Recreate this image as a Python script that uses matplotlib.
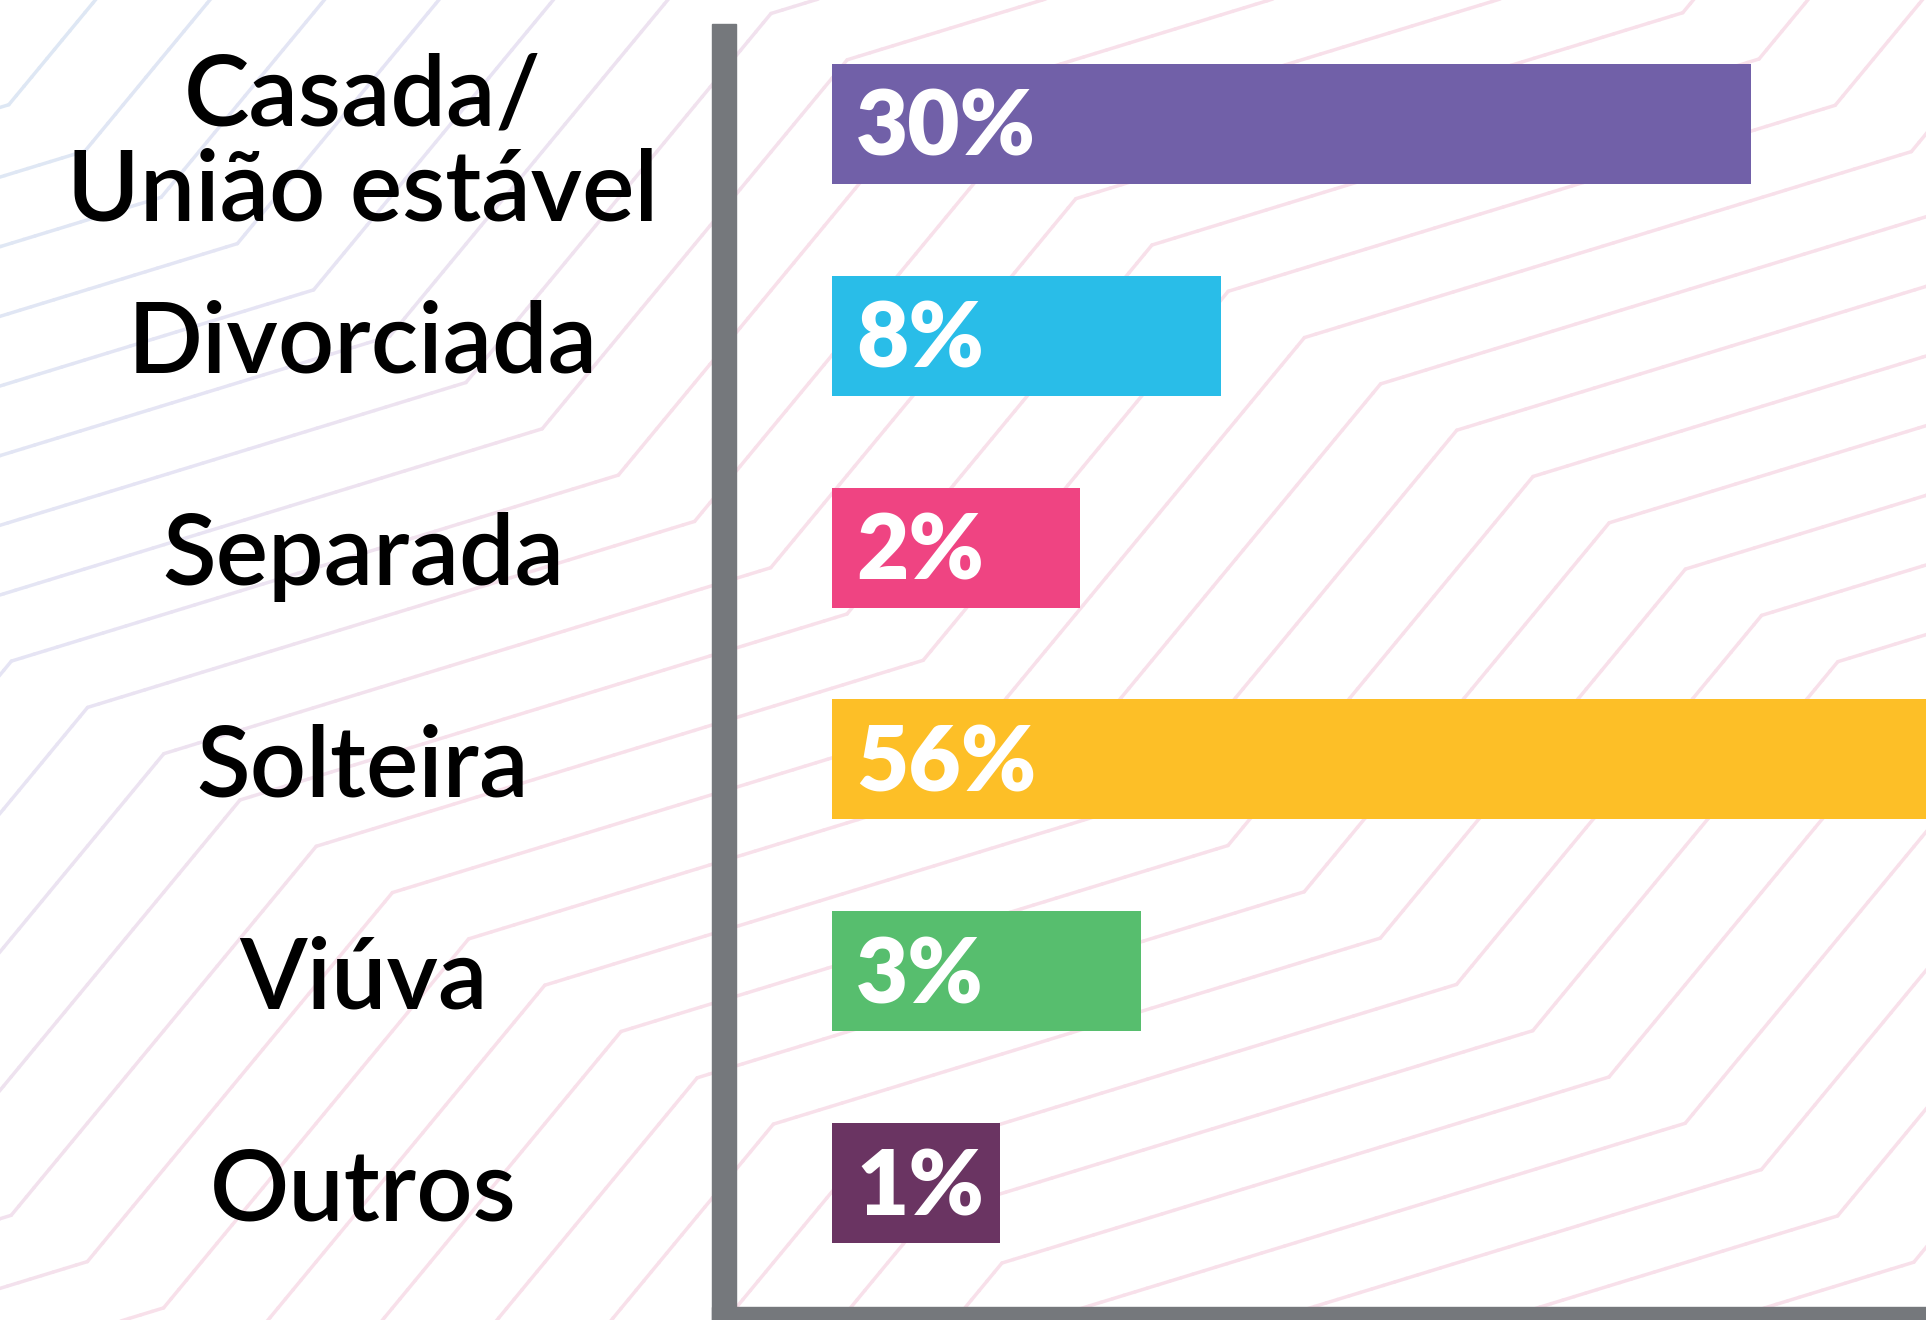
import numpy as np
import matplotlib
matplotlib.use("Agg")
import matplotlib.pyplot as plt
import matplotlib.transforms as mtransforms
from matplotlib.collections import LineCollection
from matplotlib.colors import LinearSegmentedColormap
from matplotlib.patches import Rectangle

# ---------------- data ----------------
categories = ["Casada/\nUnião estável", "Divorciada", "Separada", "Solteira", "Viúva", "Outros"]
percent_values = [30, 8, 2, 56, 3, 1]
# drawn bar lengths as they appear in the picture (the original is not to scale)
bar_lengths = [30.0, 12.7, 8.1, 56.0, 10.1, 5.5]
bar_colors = ["#7160a8", "#29bde8", "#ef4482", "#fdbf27", "#57be6e", "#6a3462"]

# ---------------- figure ----------------
W, H, DPI = 1926, 1320, 100
fig = plt.figure(figsize=(W / DPI, H / DPI), dpi=DPI)
fig.patch.set_facecolor("white")

# decorative zig-zag background
bg = fig.add_axes([0, 0, 1, 1], zorder=0)
bg.set_xlim(0, W)
bg.set_ylim(H, 0)
bg.axis("off")

period = np.array([912.0, -555.0])
shallow = np.array([607.0, -186.0])
shift = np.array([76.2, 46.3])
base_A = np.array([1152.0, 245.0])
corners = []
for m in range(-8, 9):
    A = base_A + m * period
    corners.append(A)
    corners.append(A + shallow)
corners = np.array(corners)

segs = []
for k in range(-70, 71):
    P = corners + k * shift
    for i in range(len(P) - 1):
        p0, p1 = P[i], P[i + 1]
        if max(p0[0], p1[0]) < -20 or min(p0[0], p1[0]) > W + 20:
            continue
        if max(p0[1], p1[1]) < -20 or min(p0[1], p1[1]) > H + 20:
            continue
        n = int(np.ceil(np.hypot(*(p1 - p0)) / 12.0))
        ts = np.linspace(0, 1, n + 1)
        xs = p0[0] + (p1[0] - p0[0]) * ts
        ys = p0[1] + (p1[1] - p0[1]) * ts
        for j in range(n):
            segs.append([(xs[j], ys[j]), (xs[j + 1], ys[j + 1])])
segs = np.array(segs)
mid = segs.mean(axis=1)
keep = (mid[:, 0] > -20) & (mid[:, 0] < W + 20) & (mid[:, 1] > -20) & (mid[:, 1] < H + 20)
segs = segs[keep]
mid = mid[keep]
t = np.clip(mid[:, 0] / 950.0 + mid[:, 1] / 1500.0, 0, 1)
cmap = LinearSegmentedColormap.from_list("bgc", ["#dce8f4", "#e6e4f4", "#f8e0ea"])
lc = LineCollection(segs, colors=cmap(t), linewidths=2.5, capstyle="round")
bg.add_collection(lc)

# main axes
px_per_unit = 30.63
ax_left, ax_right, ax_top, ax_bottom = 736, W, 24, 1307
ax = fig.add_axes([ax_left / W, (H - ax_bottom) / H,
                   (ax_right - ax_left) / W, (ax_bottom - ax_top) / H], zorder=2)
ax.patch.set_alpha(0)
bar_start_px = 832
ax.set_xlim(-(bar_start_px - ax_left) / px_per_unit, (ax_right - bar_start_px) / px_per_unit)
spacing = 211.8
first_center = 124
ax.set_ylim((ax_bottom - first_center) / spacing, (ax_top - first_center) / spacing)
ax.axis("off")

y = np.arange(len(categories))
ax.barh(y, bar_lengths, height=0.567, color=bar_colors, zorder=3)

for i, v in enumerate(percent_values):
    ax.annotate(f"{v}%", xy=(0, i), xytext=(24, -32), textcoords="offset pixels",
                color="white", fontsize=65, fontweight="heavy", family="Lato",
                va="baseline", ha="left", zorder=4)

# axis lines
axis_color = "#75787c"
fig.add_artist(Rectangle((712 / W, 0), 24 / W, (H - 24) / H,
                         transform=fig.transFigure, color=axis_color, zorder=1))
fig.add_artist(Rectangle((712 / W, 0), (W - 712) / W, 13 / H,
                         transform=fig.transFigure, color=axis_color, zorder=1))

# category labels
label_x = 363 / W
for i, lab in enumerate(categories):
    lines = lab.split("\n")
    n = len(lines)
    for j, line in enumerate(lines):
        dy = 37 + (j - (n - 1) / 2) * 95 + (12 if n > 1 else 0)
        trans = mtransforms.blended_transform_factory(fig.transFigure, ax.transData) + \
            mtransforms.ScaledTranslation(0, -dy / DPI, fig.dpi_scale_trans)
        ax.text(label_x, i, line, transform=trans, ha="center", va="baseline",
                fontsize=71, fontweight="semibold", family="Lato", color="black",
                clip_on=False, zorder=5)

fig.savefig("out.png", dpi=DPI)
